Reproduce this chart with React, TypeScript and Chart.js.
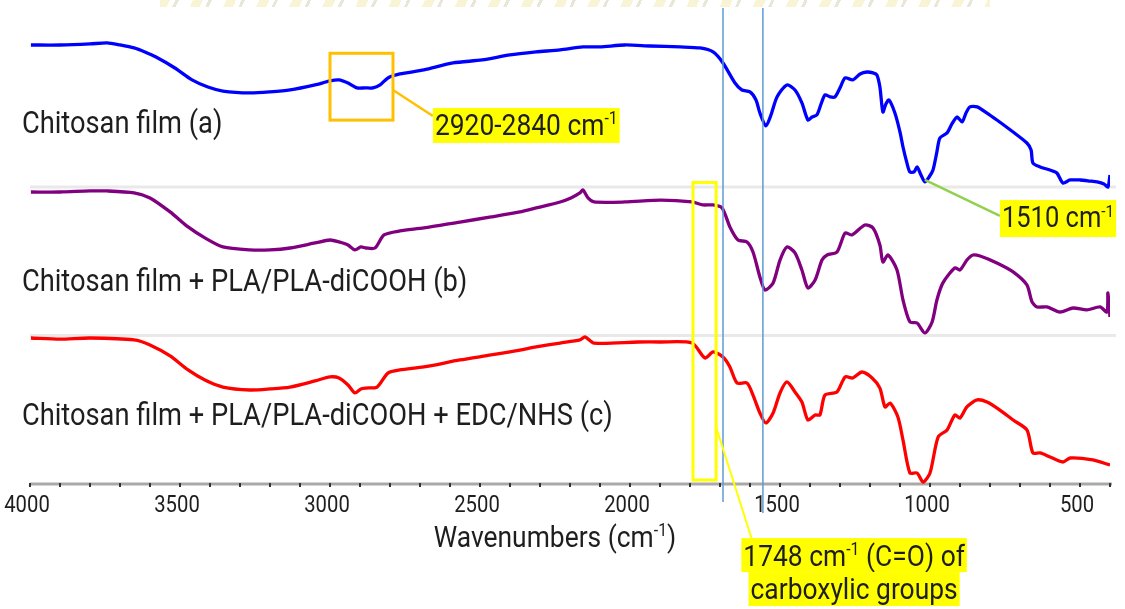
import React, { useEffect, useRef } from "react";
import { Chart, registerables } from "chart.js";
Chart.register(...registerables);

const seriesLabels = [
  "Chitosan film (a)",
  "Chitosan film + PLA/PLA-diCOOH (b)",
  "Chitosan film + PLA/PLA-diCOOH + EDC/NHS (c)",
];
const seriesColors = ["#0000ff", "#800080", "#ff0000"];
const stackOffsets = [200, 100, 0];

const waveA = [3997,3900,3800,3743,3700,3653,3617,3580,3517,3460,3407,3357,3267,3200,3133,3050,3000,2970,2940,2910,2883,2857,2833,2807,2767,2687,2590,2493,2400,2313,2233,2157,2100,2017,1933,1833,1767,1723,1690,1650,1627,1600,1580,1567,1547,1530,1510,1477,1450,1427,1407,1393,1377,1363,1350,1333,1317,1300,1283,1257,1233,1210,1190,1177,1167,1157,1147,1137,1117,1100,1090,1077,1067,1053,1043,1030,1017,1003,990,977,967,943,927,910,893,880,867,843,810,777,723,677,663,657,633,600,577,557,533,500,467,443,420,407,400];
const valueA = [95.6,95.6,96.3,97.0,95.6,93.6,90.9,87.5,80.1,72.1,67.3,64.6,63.3,64.0,65.3,68.7,71.4,72.1,70.0,66.7,66.7,66.7,68.7,73.4,76.1,78.8,83.5,85.5,88.9,90.9,92.3,94.3,94.3,95.6,94.9,94.3,93.6,90.9,83.5,70.0,65.3,64.0,58.6,49.8,41.1,48.5,60.6,68.7,65.3,56.6,45.1,47.1,48.5,55.9,62.0,60.6,60.6,66.7,73.4,72.1,76.1,77.4,76.8,75.4,67.3,50.5,55.9,58.6,49.8,37.0,26.9,16.2,10.1,10.1,13.5,8.1,3.4,6.7,11.4,23.6,33.0,36.4,42.4,47.1,43.8,49.8,53.9,53.9,49.8,45.1,37.0,29.6,24.9,16.2,13.5,11.4,9.4,2.7,4.7,4.7,4.0,3.4,2.0,0,8.1];

const waveB = [3997,3900,3800,3743,3653,3600,3533,3473,3417,3357,3267,3200,3133,3050,3000,2970,2940,2917,2897,2880,2850,2820,2767,2687,2567,2463,2367,2313,2233,2197,2167,2157,2140,2120,2017,1897,1793,1757,1723,1693,1667,1640,1610,1590,1567,1550,1523,1500,1477,1450,1427,1407,1383,1360,1343,1310,1283,1260,1217,1190,1167,1157,1140,1110,1090,1067,1043,1017,993,977,957,917,900,877,857,833,777,723,677,660,643,610,567,523,477,433,410,407,400];
const valueB = [96.6,96.6,97.3,97.3,96.0,92.6,83.2,73.1,65.7,59.6,57.6,57.6,58.9,62.3,64.3,63.0,60.9,57.6,59.6,58.9,58.9,67.7,70.4,72.4,76.4,79.8,83.2,85.9,89.9,92.6,96.0,98.0,92.6,89.9,89.9,91.2,89.9,87.9,87.9,85.9,73.1,64.3,63.0,56.2,39.4,30.6,35.4,50.8,59.6,55.6,44.1,32.0,37.4,50.8,54.2,56.2,69.0,67.7,74.4,72.4,60.9,49.5,54.2,44.1,23.9,9.1,8.4,1.7,9.1,23.9,35.4,45.5,44.1,50.8,54.2,53.5,48.8,42.8,34.0,22.6,19.2,19.2,15.8,18.5,17.2,19.2,15.8,28.6,12.5];

const waveC = [3997,3900,3800,3653,3600,3533,3473,3417,3357,3267,3200,3133,3050,3000,2970,2940,2917,2897,2880,2843,2807,2767,2687,2567,2463,2367,2313,2233,2167,2150,2120,1973,1900,1793,1750,1723,1690,1667,1643,1610,1590,1567,1547,1523,1500,1477,1450,1427,1407,1383,1367,1350,1310,1283,1257,1227,1193,1167,1150,1133,1107,1090,1067,1043,1023,1000,973,943,917,900,877,843,810,767,723,677,657,633,600,557,533,457,400];
const valueC = [98.3,97.6,98.3,97.0,93.6,86.2,76.8,70.0,65.3,63.3,64.0,65.3,69.4,72.1,71.4,66.7,61.3,64.0,64.6,65.3,74.7,76.8,78.8,83.5,86.9,90.2,92.3,94.9,97.0,99.0,94.9,95.6,95.6,94.9,84.8,88.9,85.5,78.8,68.0,68.0,59.9,47.8,41.1,47.8,61.3,68.7,62.0,55.2,43.1,46.5,46.5,59.9,62.0,72.1,71.4,75.4,71.4,64.6,51.9,54.5,45.1,29.6,7.4,7.4,1.3,7.4,31.6,36.4,46.5,44.4,51.9,56.6,55.2,49.8,43.1,36.4,20.9,20.9,18.2,14.8,17.5,16.2,12.8];

const xMin = 400;
const xMax = 4000;
const yMax = 320.5;
const xTickMajor = [4000, 3500, 3000, 2500, 2000, 1500, 1000, 500];
const xMinorStep = 100;
const panelSeparators = [100, 200];
const markerWaves = [1690, 1557];
const markerBottoms = [-12.1, -19.5];
const axisTitle = [{ t: "Wavenumbers (cm" }, { t: "-1", sup: true }, { t: ")" }];
const label2920 = [{ t: "2920-2840 cm" }, { t: "-1", sup: true }];
const label1510 = [{ t: "1510 cm" }, { t: "-1", sup: true }];
const label1748a = [{ t: "1748 cm" }, { t: "-1", sup: true }, { t: " (C=O) of" }];
const label1748b = [{ t: "carboxylic groups" }];

type Seg = { t: string; sup?: boolean };
const TEXT = "#1e1e1e";
const SX = 0.88;
const fontOf = (s: number) => `${s}px Roboto, "Noto Sans", sans-serif`;

function richWidth(ctx: CanvasRenderingContext2D, segs: Seg[], size: number) {
  let w = 0;
  for (const s of segs) {
    ctx.font = fontOf(s.sup ? size * 0.6 : size);
    w += ctx.measureText(s.t).width;
  }
  return w * SX;
}
function drawRich(ctx: CanvasRenderingContext2D, segs: Seg[], x: number, y: number, size: number, align: "left" | "center") {
  const w = richWidth(ctx, segs, size);
  const left = align === "center" ? x - w / 2 : x;
  ctx.save();
  ctx.translate(left, y);
  ctx.scale(SX, 1);
  ctx.textBaseline = "alphabetic";
  ctx.textAlign = "left";
  ctx.fillStyle = TEXT;
  let ox = 0;
  for (const s of segs) {
    const fs = s.sup ? size * 0.6 : size;
    ctx.font = fontOf(fs);
    ctx.fillText(s.t, ox, s.sup ? -size * 0.36 : 0);
    ox += ctx.measureText(s.t).width;
  }
  ctx.restore();
  return w;
}
function highlight(ctx: CanvasRenderingContext2D, segs: Seg[], left: number, top: number, h: number, size: number, base: number) {
  const w = richWidth(ctx, segs, size);
  ctx.fillStyle = "#ffff00";
  ctx.fillRect(left, top, w + 4, h);
  drawRich(ctx, segs, left + 2, top + base, size, "left");
}

const decorPlugin = {
  id: "decor",
  beforeDatasetsDraw(chart: any) {
    const { ctx, chartArea } = chart;
    const x = chart.scales.x;
    const y = chart.scales.y;
    ctx.save();
    ctx.strokeStyle = "#e9e9e9";
    ctx.lineWidth = 3;
    for (const v of panelSeparators) {
      const py = y.getPixelForValue(v);
      ctx.beginPath();
      ctx.moveTo(chartArea.left, py);
      ctx.lineTo(chartArea.right + 6, py);
      ctx.stroke();
    }
    const by = y.getPixelForValue(0);
    ctx.strokeStyle = "#a9a9a9";
    ctx.lineWidth = 3;
    ctx.beginPath();
    ctx.moveTo(chartArea.left, by);
    ctx.lineTo(chartArea.right + 2, by);
    ctx.stroke();
    ctx.strokeStyle = "#333";
    ctx.lineWidth = 2;
    for (let w = xMax; w >= xMin; w -= xMinorStep) {
      const px = x.getPixelForValue(w);
      ctx.beginPath();
      ctx.moveTo(px, by - 1);
      ctx.lineTo(px, by + 3);
      ctx.stroke();
    }
    ctx.restore();
  },
  afterDatasetsDraw(chart: any) {
    const { ctx, chartArea } = chart;
    const x = chart.scales.x;
    const y = chart.scales.y;
    const X = (w: number) => x.getPixelForValue(w);
    const Y = (v: number) => y.getPixelForValue(v);
    ctx.save();

    for (const t of xTickMajor) {
      drawRich(ctx, [{ t: String(t) }], X(t) - 3, Y(-18.9), 23, "center");
    }
    drawRich(ctx, axisTitle, X(2250), Y(-42.4), 30, "center");

    ctx.strokeStyle = "#5b9bd5";
    ctx.lineWidth = 1.5;
    markerWaves.forEach((w, i) => {
      ctx.beginPath();
      ctx.moveTo(X(w), chartArea.top);
      ctx.lineTo(X(w), Y(markerBottoms[i]));
      ctx.stroke();
    });

    ctx.strokeStyle = "#ffc000";
    ctx.lineWidth = 3;
    ctx.strokeRect(X(3000), Y(290), X(2790) - X(3000), Y(245) - Y(290));
    ctx.lineWidth = 2.5;
    ctx.beginPath();
    ctx.moveTo(X(2790), Y(265.3));
    ctx.lineTo(X(2657), Y(247.8));
    ctx.stroke();
    highlight(ctx, label2920, X(2657), Y(253.2), 35, 30, 27);

    ctx.strokeStyle = "#92d050";
    ctx.lineWidth = 2.5;
    ctx.beginPath();
    ctx.moveTo(X(1017), Y(204.7));
    ctx.lineTo(X(767), Y(180.5));
    ctx.stroke();
    highlight(ctx, label1510, X(767), Y(191.2), 37, 29, 27);

    ctx.strokeStyle = "#ffff00";
    ctx.lineWidth = 3;
    ctx.strokeRect(X(1790), Y(203), X(1713) - X(1790), Y(2.7) - Y(203));
    ctx.lineWidth = 2;
    ctx.beginPath();
    ctx.moveTo(X(1713), Y(38.4));
    ctx.lineTo(X(1593), Y(-37.7));
    ctx.stroke();
    const cx = X(1253);
    const top = Y(-36.4);
    const w1 = richWidth(ctx, label1748a, 30);
    highlight(ctx, label1748a, cx - w1 / 2 - 2, top, 34, 30, 28);
    const w2 = richWidth(ctx, label1748b, 30);
    highlight(ctx, label1748b, cx - w2 / 2 - 2, top + 34, 34, 30, 27);

    const baselines = [236.4, 130.0, 39.7];
    seriesLabels.forEach((s, i) => {
      drawRich(ctx, [{ t: s }], X(4027), Y(baselines[i]), 31, "left");
    });
    ctx.restore();
  },
};

export default function App() {
  const ref = useRef<HTMLCanvasElement>(null);
  useEffect(() => {
    if (!ref.current) return;
    const sets = [
      [waveA, valueA],
      [waveB, valueB],
      [waveC, valueC],
    ];
    const chart = new Chart(ref.current, {
      type: "line",
      data: {
        datasets: sets.map(([ws, vs], i) => ({
          label: seriesLabels[i],
          data: ws.map((w, k) => ({ x: w, y: vs[k] + stackOffsets[i] })),
          borderColor: seriesColors[i],
          borderWidth: 3.3,
          pointRadius: 0,
          tension: 0.25,
          fill: false,
        })),
      },
      options: {
        responsive: false,
        animation: false,
        layout: { padding: { left: 30, right: 15, top: 8, bottom: 125 } },
        plugins: { legend: { display: false }, tooltip: { enabled: false } },
        scales: {
          x: { type: "linear", min: xMin, max: xMax, reverse: true, display: false },
          y: { min: 0, max: yMax, display: false },
        },
      },
      plugins: [decorPlugin],
    });
    (document as any).fonts?.load?.('30px Roboto').then(() => chart.draw());
    return () => chart.destroy();
  }, []);
  return (
    <div style={{ position: "fixed", left: 0, top: 0, width: 1125, height: 609, background: "#fff" }}>
      <div
        style={{
          position: "absolute",
          left: 160,
          top: 0,
          width: 830,
          height: 7,
          opacity: 0.45,
          background:
            "repeating-linear-gradient(115deg, #efe6a0 0px, #efe6a0 9px, #ffffff 9px, #ffffff 14px, #cfc8a8 14px, #cfc8a8 17px, #ffffff 17px, #ffffff 30px)",
        }}
      />
      <canvas ref={ref} width={1125} height={609} style={{ position: "absolute", left: 0, top: 0 }} />
    </div>
  );
}
